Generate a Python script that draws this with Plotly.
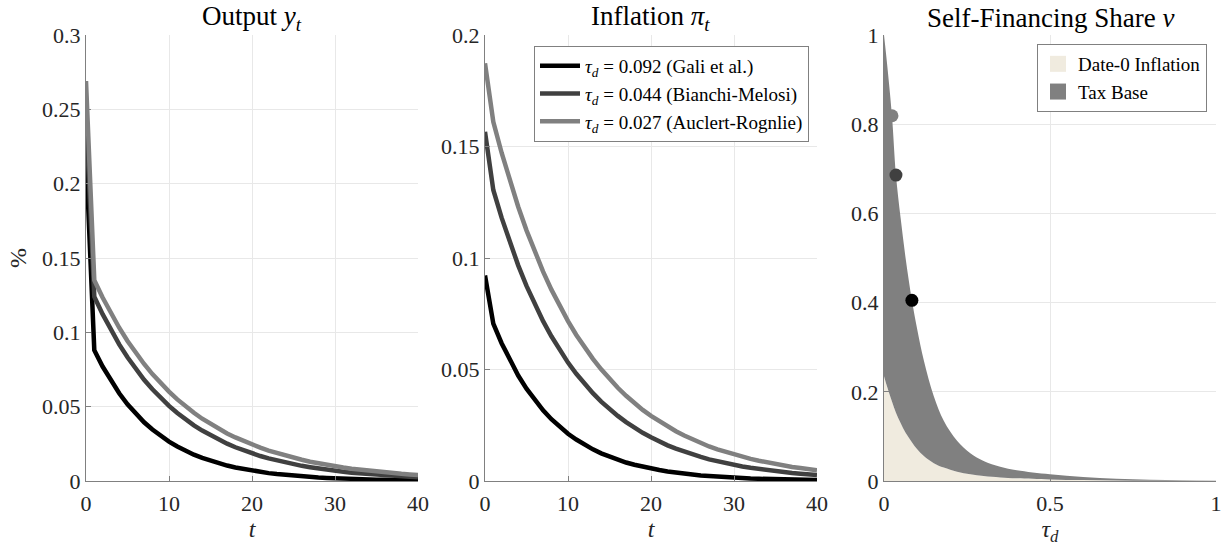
import plotly.graph_objects as go

# ---------------- data ----------------
t = list(range(41))

out_gali = [0.219, 0.0880, 0.0770, 0.0674, 0.0590, 0.0516, 0.0451, 0.0395, 0.0346, 0.0302, 0.0265,
            0.0232, 0.0203, 0.0177, 0.0155, 0.0136, 0.0119, 0.0104, 0.0091, 0.0080, 0.0070,
            0.0061, 0.0053, 0.0047, 0.0041, 0.0036, 0.0031, 0.0027, 0.0024, 0.0021, 0.0018,
            0.0016, 0.0014, 0.0012, 0.0011, 0.0009, 0.0008, 0.0007, 0.0006, 0.0005, 0.0005]
out_bm = [0.245, 0.1240, 0.1122, 0.1016, 0.0919, 0.0832, 0.0753, 0.0681, 0.0617, 0.0558, 0.0505,
          0.0457, 0.0414, 0.0374, 0.0339, 0.0307, 0.0277, 0.0251, 0.0227, 0.0206, 0.0186,
          0.0168, 0.0152, 0.0138, 0.0125, 0.0113, 0.0102, 0.0093, 0.0084, 0.0076, 0.0069,
          0.0062, 0.0056, 0.0051, 0.0046, 0.0042, 0.0038, 0.0034, 0.0031, 0.0028, 0.0025]
out_ar = [0.269, 0.1350, 0.1234, 0.1128, 0.1031, 0.0942, 0.0861, 0.0787, 0.0719, 0.0658, 0.0601,
          0.0549, 0.0502, 0.0459, 0.0419, 0.0383, 0.0350, 0.0320, 0.0293, 0.0268, 0.0244,
          0.0224, 0.0204, 0.0187, 0.0171, 0.0156, 0.0143, 0.0130, 0.0119, 0.0109, 0.0099,
          0.0091, 0.0083, 0.0076, 0.0069, 0.0063, 0.0058, 0.0053, 0.0048, 0.0044, 0.0041]

inf_gali = [0.0922, 0.0706, 0.0618, 0.0541, 0.0473, 0.0414, 0.0362, 0.0317, 0.0277, 0.0243, 0.0212,
            0.0186, 0.0163, 0.0142, 0.0124, 0.0109, 0.0095, 0.0083, 0.0073, 0.0064, 0.0056,
            0.0049, 0.0043, 0.0037, 0.0033, 0.0029, 0.0025, 0.0022, 0.0019, 0.0017, 0.0015,
            0.0013, 0.0011, 0.0010, 0.0009, 0.0008, 0.0007, 0.0006, 0.0005, 0.0004, 0.0004]
inf_bm = [0.1566, 0.1305, 0.1181, 0.1069, 0.0967, 0.0875, 0.0792, 0.0717, 0.0649, 0.0587, 0.0531,
          0.0481, 0.0435, 0.0394, 0.0356, 0.0323, 0.0292, 0.0264, 0.0239, 0.0216, 0.0196,
          0.0177, 0.0160, 0.0145, 0.0131, 0.0119, 0.0108, 0.0097, 0.0088, 0.0080, 0.0072,
          0.0065, 0.0059, 0.0054, 0.0048, 0.0044, 0.0040, 0.0036, 0.0033, 0.0029, 0.0027]
inf_ar = [0.1873, 0.1611, 0.1472, 0.1346, 0.1230, 0.1124, 0.1028, 0.0939, 0.0858, 0.0785, 0.0717,
          0.0655, 0.0599, 0.0548, 0.0501, 0.0458, 0.0418, 0.0382, 0.0349, 0.0319, 0.0292,
          0.0267, 0.0244, 0.0223, 0.0204, 0.0186, 0.0170, 0.0155, 0.0142, 0.0130, 0.0119,
          0.0109, 0.0099, 0.0091, 0.0083, 0.0076, 0.0069, 0.0063, 0.0058, 0.0053, 0.0048]

tau_grid = [0, 0.01, 0.024, 0.036, 0.05, 0.065, 0.084, 0.1, 0.12, 0.15, 0.18, 0.22, 0.26, 0.3,
            0.35, 0.4, 0.5, 0.6, 0.7, 0.8, 0.9, 1.0]
date0_inflation = [0.235, 0.21, 0.178, 0.153, 0.13, 0.108, 0.087, 0.071, 0.056, 0.040, 0.030,
                   0.021, 0.015, 0.011, 0.008, 0.006, 0.0035, 0.002, 0.0012, 0.0007, 0.0004, 0.0002]
total_share = [1.0, 0.93, 0.819, 0.686, 0.59, 0.50, 0.405, 0.34, 0.27, 0.19, 0.135,
               0.09, 0.062, 0.045, 0.032, 0.024, 0.015, 0.009, 0.005, 0.003, 0.0015, 0.0008]

dot_tau = [0.084, 0.036, 0.024]
dot_share = [0.405, 0.686, 0.819]

series_names = ["<i>τ</i><sub><i>d</i></sub> = 0.092 (Gali et al.)",
                "<i>τ</i><sub><i>d</i></sub> = 0.044 (Bianchi-Melosi)",
                "<i>τ</i><sub><i>d</i></sub> = 0.027 (Auclert-Rognlie)"]
series_colors = ["#000000", "#404040", "#808080"]
share_names = ["Date-0 Inflation", "Tax Base"]
share_colors = ["#F0EBDF", "#808080"]

titles = ["Output <i>y</i><sub><i>t</i></sub>",
          "Inflation <i>π</i><sub><i>t</i></sub>",
          "Self-Financing Share <i>ν</i>"]

# ---------------- figure ----------------
FONT = "'Liberation Serif', 'DejaVu Serif', serif"
W, H = 1225, 546
fig = go.Figure()

out_series = [out_gali, out_bm, out_ar]
inf_series = [inf_gali, inf_bm, inf_ar]
for name, col, ys in zip(series_names, series_colors, out_series):
    fig.add_trace(go.Scatter(x=t, y=ys, mode="lines", line=dict(color=col, width=4.5),
                             xaxis="x", yaxis="y", showlegend=False, name=name))
for name, col, ys in zip(series_names, series_colors, inf_series):
    fig.add_trace(go.Scatter(x=t, y=ys, mode="lines", line=dict(color=col, width=4.5),
                             xaxis="x2", yaxis="y2", showlegend=True, name=name, legend="legend"))

fig.add_trace(go.Scatter(x=tau_grid, y=date0_inflation, mode="lines",
                         line=dict(width=0, color=share_colors[0], shape="spline"),
                         fill="tozeroy", fillcolor=share_colors[0], name=share_names[0],
                         xaxis="x3", yaxis="y3", showlegend=False))
fig.add_trace(go.Scatter(x=tau_grid, y=total_share, mode="lines",
                         line=dict(width=0, color=share_colors[1], shape="spline"),
                         fill="tonexty", fillcolor=share_colors[1], name=share_names[1],
                         xaxis="x3", yaxis="y3", showlegend=False))
# legend swatches for the shares
for name, col in zip(share_names, share_colors):
    fig.add_trace(go.Scatter(x=[None], y=[None], mode="markers",
                             marker=dict(symbol="square", size=20, color=col, line=dict(width=0)),
                             name=name, xaxis="x3", yaxis="y3", legend="legend2", showlegend=True))
fig.add_trace(go.Scatter(x=dot_tau, y=dot_share, mode="markers",
                         marker=dict(color=series_colors, size=13), showlegend=False,
                         xaxis="x3", yaxis="y3"))

ytop, ybot = 35, 481
ydom = [1 - ybot / H, 1 - ytop / H]
xdoms = [[86 / W, 418 / W], [485 / W, 817 / W], [884 / W, 1216 / W]]

tickfont = dict(family=FONT, size=22, color="#262626")
common = dict(showgrid=True, gridcolor="#E8E8E8", gridwidth=1, zeroline=False, automargin=False,
              showline=True, linecolor="#808080", linewidth=1, ticks="inside", ticklen=5,
              tickcolor="#808080", tickfont=tickfont)
xcommon = dict(common, ticklabelstandoff=3)
axtitle = dict(family=FONT, size=24, color="#262626")

xt1 = [0, 10, 20, 30, 40]
fig.update_layout(
    width=W, height=H, margin=dict(l=0, r=0, t=0, b=0, autoexpand=False),
    paper_bgcolor="white", plot_bgcolor="white",
    font=dict(family=FONT, color="#262626"),
    xaxis=dict(domain=xdoms[0], range=[0, 40], tickvals=xt1, ticktext=[str(v) for v in xt1],
               title=dict(text="<i>t</i>", font=axtitle, standoff=4),
               anchor="y", **xcommon),
    yaxis=dict(domain=ydom, range=[0, 0.3], tickvals=[0, 0.05, 0.1, 0.15, 0.2, 0.25, 0.3],
               ticktext=["0", "0.05", "0.1", "0.15", "0.2", "0.25", "0.3"],
               title=dict(text="%", font=axtitle, standoff=8),
               anchor="x", **common),
    xaxis2=dict(domain=xdoms[1], range=[0, 40], tickvals=xt1, ticktext=[str(v) for v in xt1],
                title=dict(text="<i>t</i>", font=axtitle, standoff=4),
                anchor="y2", **xcommon),
    yaxis2=dict(domain=ydom, range=[0, 0.2], tickvals=[0, 0.05, 0.1, 0.15, 0.2],
                ticktext=["0", "0.05", "0.1", "0.15", "0.2"], anchor="x2", **common),
    xaxis3=dict(domain=xdoms[2], range=[0, 1], tickvals=[0, 0.5, 1], ticktext=["0", "0.5", "1"],
                title=dict(text="<i>τ</i><sub><i>d</i></sub>", font=axtitle, standoff=4),
                anchor="y3", **xcommon),
    yaxis3=dict(domain=ydom, range=[0, 1], tickvals=[0, 0.2, 0.4, 0.6, 0.8, 1],
                ticktext=["0", "0.2", "0.4", "0.6", "0.8", "1"], anchor="x3", **common),
    legend=dict(x=809 / W, y=1 - 46 / H, xanchor="right", yanchor="top",
                bgcolor="white", bordercolor="#808080", borderwidth=1,
                font=dict(family=FONT, size=19, color="#000000"), tracegroupgap=0,
                itemwidth=40, traceorder="normal"),
    legend2=dict(x=1207 / W, y=1 - 44 / H, xanchor="right", yanchor="top",
                 bgcolor="white", bordercolor="#808080", borderwidth=1,
                 font=dict(family=FONT, size=19, color="#000000"), itemwidth=30,
                 traceorder="normal"),
)

for i, ttl in enumerate(titles):
    cx = (xdoms[i][0] + xdoms[i][1]) / 2
    fig.add_annotation(x=cx, y=1 - 18 / H, xref="paper", yref="paper", text=ttl, showarrow=False,
                       font=dict(family=FONT, size=27, color="#000000"), xanchor="center", yanchor="middle")

fig.write_html("out.html")
